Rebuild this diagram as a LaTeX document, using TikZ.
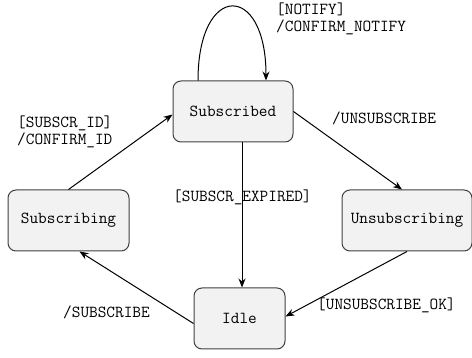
\documentclass[tikz,border=0pt]{standalone}
\usetikzlibrary{arrows.meta}
\begin{document}
\begin{tikzpicture}[x=1pt,y=-1pt,
  state/.style={draw=black!75, fill=black!5, rounded corners=8pt, line width=1pt,
    minimum height=61pt, inner sep=0pt, font=\ttfamily\fontsize{16.8}{17}\selectfont},
  lbl/.style={inner sep=0pt, anchor=west, align=left, font=\ttfamily\fontsize{16.8}{17}\selectfont},
  tr/.style={-{Stealth[length=9pt,width=7pt]}, line width=1pt}]
\useasboundingbox (0,0) rectangle (472,358);
\node[state, minimum width=120pt] (sd) at (233,111.5) {Subscribed};
\node[state, minimum width=121pt] (sg) at (68.5,220.5) {Subscribing};
\node[state, minimum width=130pt] (us) at (407,220.5) {Unsubscribing};
\node[state, minimum width=91pt] (idle) at (239.5,318.5) {Idle};
\draw[tr] ([xshift=-35pt]sd.north) .. controls (198,-18) and (266,-18) .. ([xshift=33pt]sd.north);
\draw[tr] (sg.north) -- ([yshift=-3pt]sd.west);
\draw[tr] (sd.east) -- ([xshift=-5pt]us.north);
\draw[tr] ([xshift=9pt]sd.south) -- ([xshift=2.5pt]idle.north);
\draw[tr] (us.south) -- ([yshift=2pt]idle.east);
\draw[tr] ([yshift=-5pt]idle.west) -- ([xshift=11pt]sg.south);
\node[lbl] (l1) at (276,18.5) {[NOTIFY]\\/CONFIRM\_NOTIFY};
\node[lbl] (l2) at (332,118) {/UNSUBSCRIBE};
\node[lbl] (l3) at (17,132) {[SUBSCR\_ID]\\/CONFIRM\_ID};
\node[lbl] (l4) at (173,197) {[SUBSCR\_EXPIRED]};
\node[lbl] (l5) at (63,312) {/SUBSCRIBE};
\node[lbl] (l6) at (317,305) {[UNSUBSCRIBE\_OK]};
\end{tikzpicture}
\end{document}
